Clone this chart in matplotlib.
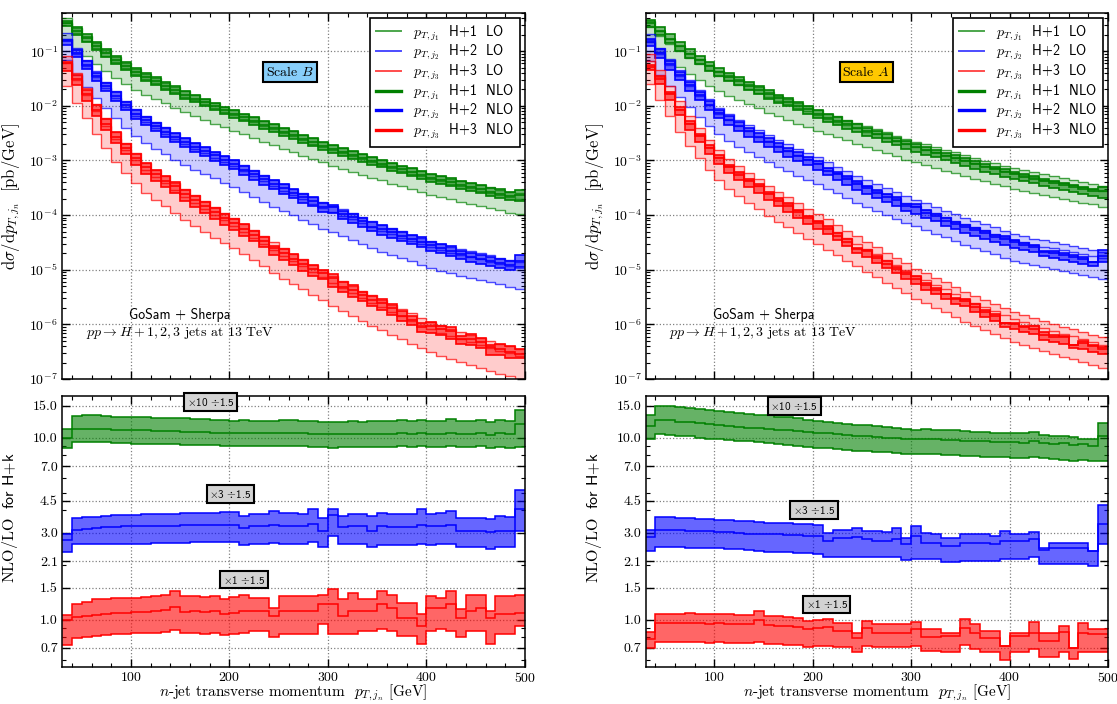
import numpy as np
import matplotlib.pyplot as plt
from matplotlib.lines import Line2D
from matplotlib.ticker import (FixedLocator, FuncFormatter, LogLocator,
                               MultipleLocator, NullFormatter)

plt.rcParams['mathtext.fontset'] = 'cm'
plt.rcParams['font.family'] = 'cmr10'
plt.rcParams['axes.formatter.use_mathtext'] = True

# 10 GeV bins from 30 to 500 GeV
pt_edges = np.arange(30, 510, 10)

# ---- LO central value, log10 of dsigma/dpT [pb/GeV] ----
lo_log_H1_B = [-0.49, -0.67, -0.81, -0.95, -1.08, -1.20, -1.31, -1.42, -1.51, -1.59,
               -1.67, -1.75, -1.83, -1.90, -1.97, -2.04, -2.11, -2.17, -2.24, -2.30,
               -2.37, -2.43, -2.50, -2.56, -2.63, -2.69, -2.75, -2.81, -2.87, -2.92,
               -2.98, -3.03, -3.08, -3.14, -3.19, -3.24, -3.29, -3.34, -3.38, -3.43,
               -3.47, -3.51, -3.55, -3.59, -3.63, -3.67, -3.70]
lo_log_H2_B = [-0.78, -1.05, -1.27, -1.48, -1.67, -1.85, -2.02, -2.18, -2.30, -2.41,
               -2.51, -2.61, -2.70, -2.79, -2.87, -2.95, -3.03, -3.11, -3.20, -3.29,
               -3.38, -3.47, -3.55, -3.63, -3.71, -3.79, -3.87, -3.94, -4.01, -4.08,
               -4.15, -4.22, -4.29, -4.35, -4.41, -4.47, -4.53, -4.59, -4.64, -4.69,
               -4.73, -4.77, -4.81, -4.85, -4.89, -4.93, -4.97]
lo_log_H3_B = [-1.22, -1.52, -1.81, -2.10, -2.36, -2.60, -2.81, -3.00, -3.17, -3.30,
               -3.42, -3.54, -3.66, -3.77, -3.88, -3.99, -4.09, -4.19, -4.30, -4.41,
               -4.52, -4.63, -4.74, -4.84, -4.94, -5.04, -5.14, -5.24, -5.33, -5.42,
               -5.51, -5.60, -5.69, -5.77, -5.85, -5.93, -6.01, -6.09, -6.15, -6.21,
               -6.27, -6.32, -6.38, -6.43, -6.48, -6.53, -6.58]

lo_log_H1_A = [-0.55, -0.73, -0.87, -1.00, -1.13, -1.24, -1.35, -1.45, -1.53, -1.61,
               -1.69, -1.76, -1.84, -1.91, -1.97, -2.04, -2.10, -2.17, -2.24, -2.29,
               -2.35, -2.41, -2.47, -2.52, -2.58, -2.64, -2.70, -2.75, -2.80, -2.85,
               -2.90, -2.95, -3.00, -3.05, -3.10, -3.14, -3.19, -3.23, -3.27, -3.31,
               -3.35, -3.38, -3.42, -3.45, -3.49, -3.52, -3.56]
lo_log_H2_A = [-0.80, -1.05, -1.26, -1.455, -1.64, -1.82, -1.99, -2.145, -2.26, -2.37,
               -2.465, -2.565, -2.65, -2.74, -2.82, -2.90, -2.975, -3.055, -3.14, -3.225,
               -3.31, -3.40, -3.475, -3.55, -3.62, -3.69, -3.77, -3.83, -3.90, -3.97,
               -4.03, -4.10, -4.17, -4.225, -4.28, -4.34, -4.40, -4.455, -4.50, -4.545,
               -4.575, -4.61, -4.645, -4.68, -4.715, -4.75, -4.79]
lo_log_H3_A = [-1.18, -1.48, -1.77, -2.05, -2.31, -2.54, -2.75, -2.94, -3.105, -3.235,
               -3.355, -3.47, -3.59, -3.70, -3.80, -3.91, -4.01, -4.105, -4.21, -4.315,
               -4.42, -4.52, -4.62, -4.72, -4.82, -4.915, -5.01, -5.11, -5.19, -5.28,
               -5.36, -5.445, -5.53, -5.605, -5.68, -5.755, -5.83, -5.90, -5.96, -6.02,
               -6.07, -6.115, -6.17, -6.22, -6.275, -6.32, -6.37]

# LO scale band relative to LO central (up, down)
lo_band_H1 = (1.25, 0.52)
lo_band_H2 = (1.30, 0.42)
lo_band_H3 = (1.35, 0.38)

# ---- NLO/LO ratio (NLO scale band / LO central), scale B ----
r_hi_H1_B = [1.125, 1.32, 1.33, 1.33, 1.32, 1.31, 1.31, 1.30, 1.30, 1.29,
             1.29, 1.28, 1.28, 1.27, 1.27, 1.26, 1.25, 1.24, 1.25, 1.24,
             1.24, 1.24, 1.25, 1.25, 1.24, 1.24, 1.23, 1.22, 1.23, 1.24,
             1.23, 1.24, 1.24, 1.24, 1.25, 1.24, 1.25, 1.24, 1.24, 1.27,
             1.24, 1.24, 1.26, 1.22, 1.26, 1.24, 1.42]
r_c_H1_B = [0.998, 1.117, 1.125, 1.12, 1.115, 1.11, 1.105, 1.10, 1.10, 1.095,
            1.09, 1.085, 1.08, 1.08, 1.075, 1.07, 1.065, 1.06, 1.065, 1.06,
            1.06, 1.06, 1.065, 1.06, 1.06, 1.055, 1.05, 1.045, 1.05, 1.055,
            1.05, 1.055, 1.055, 1.055, 1.06, 1.055, 1.06, 1.055, 1.055, 1.07,
            1.055, 1.055, 1.065, 1.04, 1.06, 1.045, 1.19]
r_lo_H1_B = [0.877, 0.945, 0.95, 0.95, 0.945, 0.94, 0.935, 0.93, 0.93, 0.925,
             0.925, 0.92, 0.915, 0.915, 0.91, 0.91, 0.905, 0.90, 0.905, 0.90,
             0.90, 0.90, 0.905, 0.90, 0.90, 0.895, 0.89, 0.885, 0.89, 0.895,
             0.89, 0.895, 0.895, 0.895, 0.90, 0.895, 0.90, 0.895, 0.895, 0.905,
             0.895, 0.89, 0.90, 0.88, 0.895, 0.885, 0.89]

r_hi_H2_B = [0.986, 1.20, 1.22, 1.23, 1.24, 1.25, 1.255, 1.26, 1.265, 1.27,
             1.27, 1.275, 1.28, 1.285, 1.29, 1.29, 1.30, 1.30, 1.237, 1.264,
             1.264, 1.32, 1.29, 1.29, 1.264, 1.347, 1.213, 1.357, 1.237, 1.264,
             1.264, 1.237, 1.29, 1.264, 1.264, 1.264, 1.347, 1.264, 1.29, 1.32,
             1.20, 1.20, 1.213, 1.19, 1.237, 1.23, 1.727]
r_c_H2_B = [0.917, 1.04, 1.055, 1.065, 1.075, 1.08, 1.085, 1.09, 1.09, 1.095,
            1.095, 1.095, 1.10, 1.10, 1.10, 1.10, 1.105, 1.10, 1.06, 1.094,
            1.094, 1.11, 1.094, 1.094, 1.094, 1.12, 1.027, 1.247, 1.08, 1.094,
            1.094, 1.027, 1.094, 1.08, 1.08, 1.08, 1.11, 1.094, 1.094, 1.10,
            1.027, 1.027, 1.027, 1.015, 1.027, 1.027, 1.347]
r_lo_H2_B = [0.78, 0.863, 0.865, 0.865, 0.868, 0.87, 0.87, 0.87, 0.872, 0.875,
             0.877, 0.88, 0.882, 0.885, 0.887, 0.887, 0.89, 0.887, 0.86, 0.87,
             0.87, 0.875, 0.87, 0.87, 0.87, 0.887, 0.834, 0.964, 0.87, 0.87,
             0.87, 0.834, 0.853, 0.86, 0.86, 0.86, 0.87, 0.86, 0.87, 0.87,
             0.834, 0.834, 0.834, 0.82, 0.834, 0.834, 1.027]

r_hi_H3_B = [1.055, 1.21, 1.25, 1.29, 1.30, 1.315, 1.315, 1.315, 1.327, 1.34,
             1.37, 1.43, 1.34, 1.34, 1.327, 1.34, 1.304, 1.327, 1.36, 1.315,
             1.315, 1.16, 1.34, 1.34, 1.34, 1.34, 1.37, 1.477, 1.29, 1.40,
             1.29, 1.29, 1.44, 1.37, 1.236, 1.236, 1.068, 1.34, 1.315, 1.43,
             1.14, 1.37, 1.37, 1.11, 1.34, 1.34, 1.37]
r_c_H3_B = [1.0, 1.034, 1.046, 1.06, 1.077, 1.09, 1.09, 1.10, 1.105, 1.11,
            1.13, 1.17, 1.105, 1.11, 1.10, 1.11, 1.077, 1.09, 1.11, 1.11,
            1.11, 1.046, 1.11, 1.11, 1.11, 1.11, 1.22, 1.22, 1.046, 1.11,
            1.11, 1.11, 1.21, 1.16, 1.025, 1.025, 0.924, 1.16, 1.16, 1.21,
            1.016, 1.11, 1.16, 1.025, 1.068, 1.068, 1.09]
r_lo_H3_B = [0.72, 0.79, 0.80, 0.816, 0.825, 0.833, 0.833, 0.84, 0.84, 0.84,
             0.85, 0.875, 0.84, 0.84, 0.833, 0.84, 0.826, 0.833, 0.84, 0.86,
             0.86, 0.80, 0.833, 0.833, 0.833, 0.833, 0.94, 0.833, 0.833, 0.833,
             0.87, 0.87, 0.886, 0.87, 0.816, 0.816, 0.735, 0.87, 0.886, 0.87,
             0.806, 0.87, 0.87, 0.735, 0.833, 0.833, 0.924]

# ---- NLO/LO ratio, scale A ----
r_hi_H1_A = [1.34, 1.50, 1.50, 1.48, 1.46, 1.44, 1.42, 1.40, 1.38, 1.37,
             1.35, 1.34, 1.33, 1.31, 1.30, 1.28, 1.26, 1.24, 1.23, 1.21,
             1.19, 1.18, 1.17, 1.16, 1.15, 1.14, 1.12, 1.11, 1.12, 1.11,
             1.10, 1.10, 1.09, 1.08, 1.08, 1.07, 1.07, 1.06, 1.06, 1.08,
             1.04, 1.02, 1.03, 1.01, 0.99, 0.98, 1.20]
r_c_H1_A = [1.16, 1.25, 1.25, 1.23, 1.22, 1.20, 1.19, 1.17, 1.16, 1.15,
            1.14, 1.13, 1.12, 1.11, 1.10, 1.09, 1.08, 1.07, 1.06, 1.05,
            1.04, 1.03, 1.02, 1.01, 1.00, 1.00, 0.99, 0.985, 0.98, 0.98,
            0.97, 0.97, 0.965, 0.96, 0.955, 0.95, 0.95, 0.945, 0.94, 0.955,
            0.935, 0.93, 0.935, 0.91, 0.92, 0.90, 1.02]
r_lo_H1_A = [0.99, 1.045, 1.04, 1.03, 1.02, 1.0, 0.99, 0.98, 0.975, 0.965,
             0.955, 0.945, 0.935, 0.925, 0.915, 0.905, 0.895, 0.885, 0.875, 0.865,
             0.855, 0.85, 0.845, 0.84, 0.835, 0.83, 0.82, 0.815, 0.81, 0.81,
             0.80, 0.80, 0.795, 0.79, 0.785, 0.78, 0.78, 0.775, 0.77, 0.78,
             0.77, 0.765, 0.76, 0.75, 0.755, 0.75, 0.75]

r_hi_H2_A = [1.043, 1.217, 1.217, 1.21, 1.20, 1.195, 1.19, 1.183, 1.175, 1.165,
             1.155, 1.15, 1.133, 1.135, 1.13, 1.12, 1.115, 1.11, 1.0, 1.043,
             1.043, 1.067, 1.023, 1.023, 1.013, 1.067, 0.94, 1.09, 1.0, 0.98,
             0.94, 0.94, 0.98, 0.98, 0.98, 0.96, 1.023, 0.98, 0.98, 1.013,
             0.823, 0.884, 0.884, 0.884, 0.884, 0.79, 1.423]
r_c_H2_A = [0.95, 1.043, 1.043, 1.035, 1.03, 1.025, 1.02, 1.013, 1.005, 1.0,
            0.99, 0.99, 0.98, 0.98, 0.975, 0.97, 0.965, 0.963, 0.903, 0.94,
            0.94, 0.95, 0.92, 0.903, 0.903, 0.92, 0.867, 0.963, 0.884, 0.884,
            0.85, 0.85, 0.884, 0.884, 0.884, 0.87, 0.903, 0.903, 0.903, 0.92,
            0.807, 0.83, 0.83, 0.83, 0.83, 0.79, 1.123]
r_lo_H2_A = [0.797, 0.84, 0.84, 0.835, 0.83, 0.83, 0.825, 0.823, 0.815, 0.81,
             0.80, 0.795, 0.787, 0.785, 0.78, 0.775, 0.77, 0.763, 0.74, 0.733,
             0.733, 0.733, 0.733, 0.733, 0.733, 0.733, 0.71, 0.717, 0.717, 0.717,
             0.69, 0.69, 0.703, 0.703, 0.703, 0.70, 0.717, 0.717, 0.717, 0.733,
             0.677, 0.67, 0.67, 0.67, 0.67, 0.66, 0.867]

r_hi_H3_A = [0.854, 1.077, 1.075, 1.075, 1.08, 1.075, 1.07, 1.075, 1.07, 1.065,
             1.06, 1.11, 1.05, 1.045, 1.03, 1.02, 0.98, 1.0, 1.005, 0.96,
             0.955, 0.846, 0.979, 0.94, 0.94, 0.94, 0.94, 0.971, 0.883, 0.883,
             0.84, 0.84, 1.008, 0.94, 0.865, 0.865, 0.717, 0.847, 0.847, 0.967,
             0.84, 0.84, 0.92, 0.694, 0.951, 0.89, 0.89]
r_c_H3_A = [0.779, 0.955, 0.955, 0.955, 0.96, 0.955, 0.95, 0.955, 0.95, 0.945,
            0.94, 0.988, 0.93, 0.925, 0.92, 0.915, 0.89, 0.90, 0.905, 0.865,
            0.865, 0.796, 0.90, 0.847, 0.847, 0.847, 0.847, 0.89, 0.806, 0.806,
            0.815, 0.815, 0.901, 0.847, 0.796, 0.796, 0.717, 0.812, 0.812, 0.847,
            0.763, 0.763, 0.854, 0.694, 0.847, 0.829, 0.829]
r_lo_H3_A = [0.70, 0.748, 0.748, 0.75, 0.75, 0.748, 0.745, 0.748, 0.745, 0.742,
             0.74, 0.755, 0.73, 0.73, 0.725, 0.72, 0.71, 0.715, 0.717, 0.71,
             0.71, 0.665, 0.717, 0.703, 0.703, 0.703, 0.703, 0.711, 0.674, 0.674,
             0.66, 0.66, 0.723, 0.688, 0.66, 0.66, 0.595, 0.66, 0.66, 0.688,
             0.62, 0.62, 0.66, 0.607, 0.66, 0.66, 0.66]

process_names = ['H+1', 'H+2', 'H+3']
jet_labels = [r'$p_{T,j_1}$', r'$p_{T,j_2}$', r'$p_{T,j_3}$']
colors = ['#008000', '#0000ff', '#ff0000']
ratio_scales = [10, 3, 1]
ratio_tags = [r'$\times$10 $\div$1.5', r'$\times$3 $\div$1.5', r'$\times$1 $\div$1.5']
ratio_ticks = [0.7, 1.0, 1.5, 2.1, 3.0, 4.5, 7.0, 10.0, 15.0]


def draw_spectrum(ax, lo_log, r_lo, r_c, r_hi, band, color):
    lo_c = 10.0 ** np.array(lo_log)
    lo_up = lo_c * band[0]
    lo_dn = lo_c * band[1]
    nlo_c = lo_c * np.array(r_c)
    nlo_up = lo_c * np.array(r_hi)
    nlo_dn = lo_c * np.array(r_lo)
    ax.stairs(lo_up, pt_edges, baseline=lo_dn, fill=True, color=color, alpha=0.2, lw=0)
    for v in (lo_up, lo_c, lo_dn):
        ax.stairs(v, pt_edges, baseline=None, color=color, lw=1.0, alpha=0.7)
    ax.stairs(nlo_up, pt_edges, baseline=nlo_dn, fill=True, color=color, alpha=0.55, lw=0)
    for v in (nlo_up, nlo_c, nlo_dn):
        ax.stairs(v, pt_edges, baseline=None, color=color, lw=1.2)


def draw_ratio(ax, r_lo, r_c, r_hi, scale, color):
    lo = np.array(r_lo) * scale
    c = np.array(r_c) * scale
    hi = np.array(r_hi) * scale
    ax.stairs(hi, pt_edges, baseline=lo, fill=True, color=color, alpha=0.6, lw=0)
    for v in (hi, c, lo):
        ax.stairs(v, pt_edges, baseline=None, color=color, lw=1.1)


def style_axes(ax):
    ax.set_xlim(30, 500)
    ax.xaxis.set_major_locator(MultipleLocator(100))
    ax.xaxis.set_minor_locator(MultipleLocator(20))
    ax.tick_params(which='both', direction='in', top=True, right=True, labelsize=10, pad=3)
    ax.tick_params(which='major', length=6, width=1)
    ax.tick_params(which='minor', length=3, width=0.8)
    ax.grid(True, which='major', ls=':', color='gray', lw=0.9)
    ax.set_axisbelow(True)
    for s in ax.spines.values():
        s.set_linewidth(1.1)


def make_panel(left, width, lo_logs, ratios, scale_text, scale_color, tag_pos, scale_x):
    ax = fig.add_axes([left, 0.4616, width, 0.5199])
    axr = fig.add_axes([left, 0.053, width, 0.3845])

    bands = [lo_band_H1, lo_band_H2, lo_band_H3]
    for k in range(3):
        r_lo, r_c, r_hi = ratios[k]
        draw_spectrum(ax, lo_logs[k], r_lo, r_c, r_hi, bands[k], colors[k])
        draw_ratio(axr, r_lo, r_c, r_hi, ratio_scales[k], colors[k])

    # main panel
    ax.set_yscale('log')
    ax.set_ylim(1e-7, 0.5)
    ax.yaxis.set_major_locator(LogLocator(base=10, numticks=15))
    ax.yaxis.set_major_formatter(FuncFormatter(lambda v, p: r'$10^{%d}$' % round(np.log10(v))))
    ax.yaxis.set_minor_locator(LogLocator(base=10, subs=np.arange(2, 10), numticks=100))
    ax.yaxis.set_minor_formatter(NullFormatter())
    style_axes(ax)
    ax.tick_params(labelbottom=False)
    ax.set_ylabel(r'$\mathrm{d}\sigma/\mathrm{d}p_{T,j_n}\ \ [\mathrm{pb/GeV}]$', fontsize=12)
    ax.yaxis.set_label_coords(-0.086, 0.5)

    handles, labels = [], []
    for order, lw, alpha in (('LO', 1.4, 0.7), ('NLO', 2.4, 1.0)):
        for k in range(3):
            handles.append(Line2D([], [], color=colors[k], lw=lw, alpha=alpha))
            labels.append(jet_labels[k] + '  ' + process_names[k] + '  ' + order)
    leg = ax.legend(handles, labels, loc='upper right', prop={'family': 'cmss10', 'size': 10},
                    fancybox=False, edgecolor='black', framealpha=1, handlelength=1.8,
                    labelspacing=0.03, borderpad=0.4, handletextpad=0.9, borderaxespad=0.35)
    leg.get_frame().set_linewidth(1.2)

    ax.text(scale_x, 0.839, scale_text, transform=ax.transAxes, ha='center', va='center',
            fontsize=10, bbox=dict(boxstyle='square,pad=0.2', facecolor=scale_color,
                                   edgecolor='black', lw=1.5))
    ax.text(0.255, 0.175, 'GoSam + Sherpa', transform=ax.transAxes, ha='center',
            va='center', family='cmss10', fontsize=10)
    ax.text(0.255, 0.126, r'$pp \to H+1,2,3$ jets at 13 TeV', transform=ax.transAxes,
            ha='center', va='center', fontsize=10)

    # ratio panel
    axr.set_yscale('log')
    axr.set_ylim(0.55, 17)
    axr.yaxis.set_major_locator(FixedLocator(ratio_ticks))
    axr.yaxis.set_major_formatter(FuncFormatter(lambda v, p: '%.1f' % v))
    axr.yaxis.set_minor_locator(LogLocator(base=10, subs=np.arange(2, 10), numticks=100))
    axr.yaxis.set_minor_formatter(NullFormatter())
    style_axes(axr)
    axr.set_ylabel(r'$\mathrm{NLO/LO}\ \ \mathsf{for\ H\!+\!k}$', fontsize=11.5)
    axr.yaxis.set_label_coords(-0.09, 0.55)
    axr.set_xlabel(r'$n$-jet transverse momentum  $p_{T,j_n}$ [GeV]', fontsize=11, labelpad=-1.5)

    box = dict(boxstyle='square,pad=0.25', facecolor='#d3d3d3', edgecolor='black', lw=1.5)
    for k in range(3):
        axr.text(tag_pos[k][0], tag_pos[k][1], ratio_tags[k], ha='center', va='center',
                 family='cmss10', fontsize=8, bbox=box)


fig = plt.figure(figsize=(11.17, 7.04), dpi=100)

make_panel(0.0555, 0.4145,
           [lo_log_H1_B, lo_log_H2_B, lo_log_H3_B],
           [(r_lo_H1_B, r_c_H1_B, r_hi_H1_B), (r_lo_H2_B, r_c_H2_B, r_hi_H2_B),
            (r_lo_H3_B, r_c_H3_B, r_hi_H3_B)],
           r'Scale $B$', '#87cefa', [(181, 15.8), (201, 4.9), (215, 1.66)], 0.492)

make_panel(0.578, 0.4139,
           [lo_log_H1_A, lo_log_H2_A, lo_log_H3_A],
           [(r_lo_H1_A, r_c_H1_A, r_hi_H1_A), (r_lo_H2_A, r_c_H2_A, r_hi_H2_A),
            (r_lo_H3_A, r_c_H3_A, r_hi_H3_A)],
           r'Scale $A$', '#ffc800', [(181, 15.0), (201, 4.0), (214, 1.21)], 0.477)

fig.savefig('out.png', dpi=100)
